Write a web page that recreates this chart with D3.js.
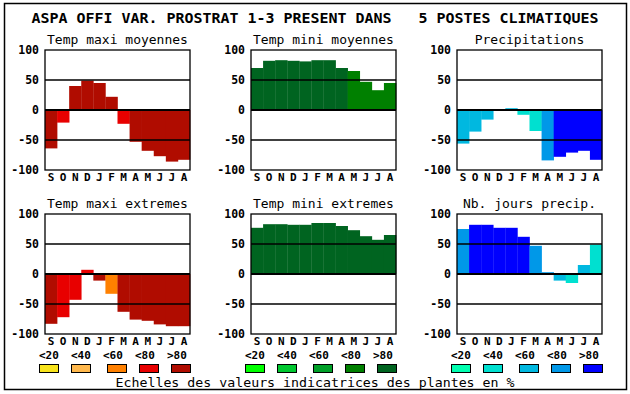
<!DOCTYPE html>
<html>
<head>
<meta charset="utf-8">
<script src="https://cdn.jsdelivr.net/npm/d3@7"></script>
<style>
  body { margin: 0; background: #fff; }
  svg { display: block; }
  text { white-space: pre; }
</style>
</head>
<body>
<svg></svg>
<script>
const width = 630, height = 394;

// Data
const months = ["S","O","N","D","J","F","M","A","M","J","J","A"];
const titles = ["Temp maxi moyennes", "Temp mini moyennes", "Precipitations",
                "Temp maxi extremes", "Temp mini extremes", "Nb. jours precip."];
const tmaxMoy  = [-64, -21, 40, 49, 45, 22, -23, -53, -68, -77, -86, -83];
const tminMoy  = [70, 82, 83, 82, 81, 83, 83, 70, 65, 47, 33, 45];
const precip   = [-56, -36, -16, 0, 3, -8, -35, -84, -78, -71, -68, -83];
const tmaxExt  = [-83, -72, -43, 7, -11, -33, -63, -76, -78, -84, -87, -87];
const tminExt  = [77, 83, 83, 82, 82, 85, 85, 80, 73, 63, 57, 65];
const nbJours  = [75, 82, 82, 77, 77, 62, 47, 3, -11, -15, 15, 49];
// colour class (0..4 = <20 .. >80) of each month
const tmaxMoyCls = [4, 3, 4, 4, 4, 4, 3, 4, 4, 4, 4, 4];
const tminMoyCls = [4, 4, 4, 4, 4, 4, 4, 4, 3, 3, 3, 3];
const precipCls  = [2, 2, 2, 2, 2, 1, 1, 3, 4, 4, 4, 4];
const tmaxExtCls = [4, 3, 3, 3, 4, 2, 4, 4, 4, 4, 4, 4];
const tminExtCls = [4, 4, 4, 4, 4, 4, 4, 4, 4, 4, 4, 4];
const nbJoursCls = [3, 4, 4, 4, 4, 4, 3, 3, 2, 1, 2, 1];

const reds   = ["#f8e41c", "#ffb84c", "#ff8000", "#e80000", "#b00c00"];
const greens = ["#00ff00", "#00c830", "#00a028", "#008000", "#006420"];
const blues  = ["#00ffb0", "#00e0d0", "#00b8e0", "#0098e8", "#0000ff"];
const legendLabels = ["<20", "<40", "<60", "<80", ">80"];
const yTicks = [100, 50, 0, -50, -100];

const panels = [
  {title: titles[0], values: tmaxMoy, cls: tmaxMoyCls, pal: reds},
  {title: titles[1], values: tminMoy, cls: tminMoyCls, pal: greens},
  {title: titles[2], values: precip,  cls: precipCls,  pal: blues},
  {title: titles[3], values: tmaxExt, cls: tmaxExtCls, pal: reds},
  {title: titles[4], values: tminExt, cls: tminExtCls, pal: greens},
  {title: titles[5], values: nbJours, cls: nbJoursCls, pal: blues}
];

const mono = "'DejaVu Sans Mono', monospace";

const svg = d3.select("svg")
    .attr("width", width)
    .attr("height", height);

// Outer frame
svg.append("rect")
    .attr("x", 4.5).attr("y", 3.5)
    .attr("width", 622).attr("height", 386)
    .attr("fill", "none").attr("stroke", "#000").attr("stroke-width", 1.5);

// Main title
svg.append("text")
    .attr("x", 315).attr("y", 23)
    .attr("text-anchor", "middle")
    .attr("textLength", 567)
    .attr("lengthAdjust", "spacingAndGlyphs")
    .style("font-family", mono)
    .style("font-size", "14px")
    .style("font-weight", "bold")
    .text("ASPA OFFI VAR. PROSTRAT 1-3 PRESENT DANS   5 POSTES CLIMATIQUES");

const pw = 145, ph = 120;

panels.forEach((p, i) => {
    const col = i % 3, row = Math.floor(i / 3);
    const x0 = 45 + 206 * col;
    const y0 = row === 0 ? 50 : 214;

    const g = svg.append("g").attr("transform", `translate(${x0},${y0})`);

    const x = d3.scaleBand().domain(d3.range(12)).range([0, pw]).padding(0);
    const y = d3.scaleLinear().domain([-100, 100]).range([ph, 0]);

    // bars
    g.selectAll("rect.bar")
        .data(p.values)
        .enter()
        .append("rect")
        .attr("class", "bar")
        .attr("x", (d, j) => x(j))
        .attr("width", x.bandwidth() + 0.3)
        .attr("y", d => y(Math.max(0, d)))
        .attr("height", d => Math.abs(y(d) - y(0)))
        .attr("fill", (d, j) => p.pal[p.cls[j]]);

    // grid lines at 50, 0, -50
    g.selectAll("line.grid")
        .data([50, 0, -50])
        .enter()
        .append("line")
        .attr("x1", 0).attr("x2", pw)
        .attr("y1", d => y(d)).attr("y2", d => y(d))
        .attr("stroke", "#000")
        .attr("stroke-width", d => d === 0 ? 2 : 1.3);

    // frame
    g.append("rect")
        .attr("width", pw).attr("height", ph)
        .attr("fill", "none").attr("stroke", "#000").attr("stroke-width", 1.3);

    // y labels
    g.selectAll("text.ytick")
        .data(yTicks)
        .enter()
        .append("text")
        .attr("x", -6)
        .attr("y", d => y(d) + 4)
        .attr("text-anchor", "end")
        .style("font-family", mono)
        .style("font-size", "11.5px")
        .style("font-weight", "bold")
        .text(d => d);

    // month labels
    g.selectAll("text.month")
        .data(months)
        .enter()
        .append("text")
        .attr("x", (d, j) => x(j) + x.bandwidth() / 2)
        .attr("y", ph + 11)
        .attr("text-anchor", "middle")
        .style("font-family", mono)
        .style("font-size", "11px")
        .style("font-weight", "bold")
        .text(d => d);

    // panel title
    g.append("text")
        .attr("x", pw / 2)
        .attr("y", -6)
        .attr("text-anchor", "middle")
        .style("font-family", mono)
        .style("font-size", "13px")
        .text(p.title);
});

// Legends
const labelOffsets = [0, 32, 64, 96, 128];
const boxOffsets = [0, 32, 68, 100, 132];
[reds, greens, blues].forEach((pal, k) => {
    const lx = 39 + 206 * k;
    const lg = svg.append("g");
    lg.selectAll("text")
        .data(legendLabels)
        .enter()
        .append("text")
        .attr("x", (d, j) => lx + labelOffsets[j])
        .attr("y", 359)
        .style("font-family", mono)
        .style("font-size", "11px")
        .style("font-weight", "bold")
        .text(d => d);
    lg.selectAll("rect")
        .data(pal)
        .enter()
        .append("rect")
        .attr("x", (d, j) => lx + boxOffsets[j] + 0.5)
        .attr("y", 364.5)
        .attr("width", 19).attr("height", 8)
        .attr("fill", d => d)
        .attr("stroke", "#000").attr("stroke-width", 1);
});

svg.append("text")
    .attr("x", 315).attr("y", 387)
    .attr("text-anchor", "middle")
    .attr("textLength", 399)
    .attr("lengthAdjust", "spacingAndGlyphs")
    .style("font-family", mono)
    .style("font-size", "13px")
    .text("Echelles des valeurs indicatrices des plantes en %");
</script>
</body>
</html>
